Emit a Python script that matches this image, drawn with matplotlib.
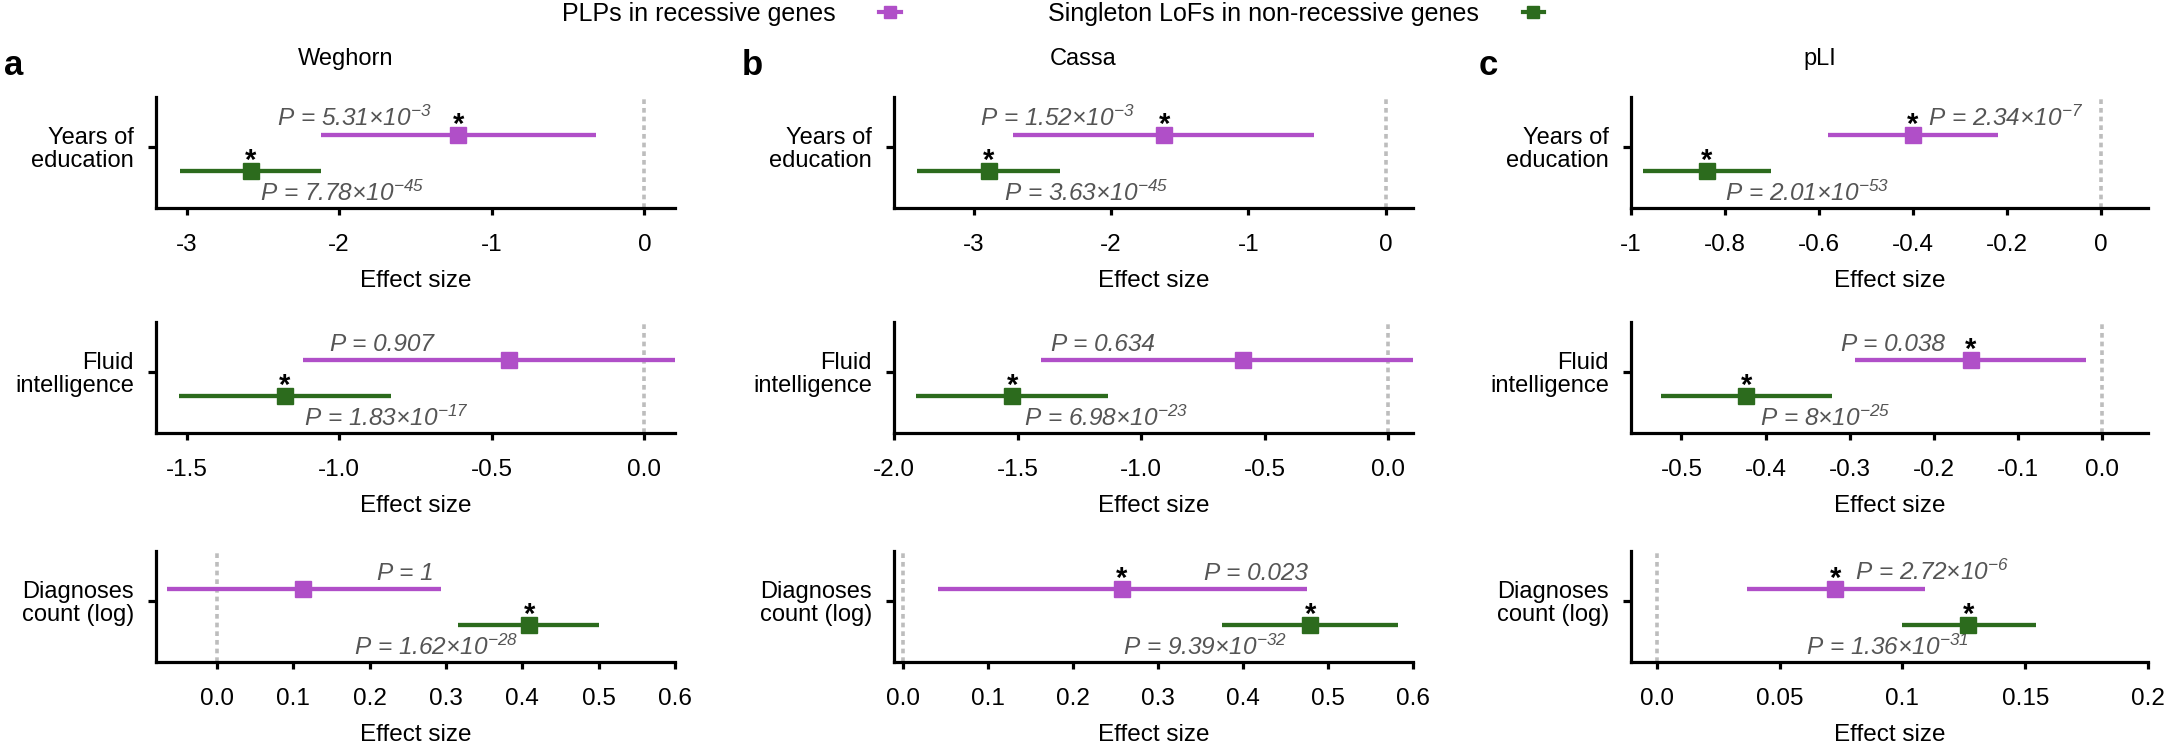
import numpy as np
import matplotlib
matplotlib.use('Agg')
import matplotlib.pyplot as plt
from matplotlib.lines import Line2D
from matplotlib import rcParams

rcParams['font.family'] = ['Liberation Sans', 'DejaVu Sans']
rcParams['mathtext.fontset'] = 'custom'
rcParams['mathtext.rm'] = 'Liberation Sans:italic'
rcParams['mathtext.it'] = 'Liberation Sans:italic'
rcParams['mathtext.bf'] = 'Liberation Sans:bold'

# ---- data (rows: years of education, fluid intelligence, diagnoses count) ----
panels = ['Weghorn', 'Cassa', 'pLI']
letters = ['a', 'b', 'c']
traits = ['Years of\neducation', 'Fluid\nintelligence', 'Diagnoses\ncount (log)']

plp_est = [[-1.22, -0.444, 0.113], [-1.61, -0.589, 0.258], [-0.40, -0.156, 0.0726]]
plp_lo = [[-2.12, -1.118, -0.065], [-2.71, -1.407, 0.042], [-0.58, -0.293, 0.0368]]
plp_hi = [[-0.317, 0.20, 0.294], [-0.52, 0.25, 0.476], [-0.219, -0.019, 0.1093]]
plp_p = [['5.31e-3', '0.907', '1'], ['1.52e-3', '0.634', '0.023'], ['2.34e-7', '0.038', '2.72e-6']]
plp_sig = [[True, False, False], [True, False, True], [True, True, True]]

lof_est = [[-2.58, -1.179, 0.409], [-2.89, -1.522, 0.479], [-0.839, -0.423, 0.1268]]
lof_lo = [[-3.04, -1.524, 0.316], [-3.41, -1.909, 0.376], [-0.975, -0.524, 0.0998]]
lof_hi = [[-2.12, -0.83, 0.501], [-2.37, -1.136, 0.582], [-0.703, -0.321, 0.1545]]
lof_p = [['7.78e-45', '1.83e-17', '1.62e-28'], ['3.63e-45', '6.98e-23', '9.39e-32'],
         ['2.01e-53', '8e-25', '1.36e-31']]
lof_sig = [[True, True, True], [True, True, True], [True, True, True]]

xticks = [
    [[-3, -2, -1, 0], [-1.5, -1.0, -0.5, 0.0], [0.0, 0.1, 0.2, 0.3, 0.4, 0.5, 0.6]],
    [[-3, -2, -1, 0], [-2.0, -1.5, -1.0, -0.5, 0.0], [0.0, 0.1, 0.2, 0.3, 0.4, 0.5, 0.6]],
    [[-1, -0.8, -0.6, -0.4, -0.2, 0], [-0.5, -0.4, -0.3, -0.2, -0.1, 0.0],
     [0.0, 0.05, 0.1, 0.15, 0.2]],
]
xticklabels = [
    [['-3', '-2', '-1', '0'], ['-1.5', '-1.0', '-0.5', '0.0'],
     ['0.0', '0.1', '0.2', '0.3', '0.4', '0.5', '0.6']],
    [['-3', '-2', '-1', '0'], ['-2.0', '-1.5', '-1.0', '-0.5', '0.0'],
     ['0.0', '0.1', '0.2', '0.3', '0.4', '0.5', '0.6']],
    [['-1', '-0.8', '-0.6', '-0.4', '-0.2', '0'], ['-0.5', '-0.4', '-0.3', '-0.2', '-0.1', '0.0'],
     ['0.0', '0.05', '0.1', '0.15', '0.2']],
]

# ---- layout ----
xlims = [
    [(-3.2, 0.2), (-1.6, 0.1), (-0.08, 0.6)],
    [(-3.58, 0.2), (-2.0, 0.1), (-0.01, 0.6)],
    [(-1.0, 0.1), (-0.56, 0.055), (-0.0105, 0.2)],
]
# left edge of the P-value texts (data units)
plp_txt_x = [[-2.41, -1.031, 0.21], [-2.955, -1.364, 0.354], [-0.368, -0.31, 0.0805]]
lof_txt_x = [[-2.52, -1.114, 0.179], [-2.78, -1.473, 0.259], [-0.799, -0.406, 0.0606]]

PURPLE = '#B04FC8'
GREEN = '#2C6B1D'
PGREY = '#555555'

W, H = 2167, 749
fig = plt.figure(figsize=(W / 100, H / 100), dpi=100)

col_left = [156, 894, 1631]
col_width = [519, 519, 517]
row_bottom = [208, 433, 662]
row_height = 111

y_plp, y_lof, y_tick = 0.66, 0.335, 0.55


def p_label(s):
    if 'e' in s:
        mant, ex = s.split('e')
        return 'P = ' + mant + '×10$^{' + ex + '}$'
    return 'P = ' + s


for c in range(3):
    for r in range(3):
        ax = fig.add_axes([col_left[c] / W, 1 - row_bottom[r] / H,
                           col_width[c] / W, row_height / H])
        ax.axvline(0, color='#BDBDBD', lw=2.6, ls=(0, (1.3, 1.1)), zorder=0)
        for est, lo, hi, yv, col in [(plp_est, plp_lo, plp_hi, y_plp, PURPLE),
                                     (lof_est, lof_lo, lof_hi, y_lof, GREEN)]:
            e = est[c][r]
            ax.errorbar([e], [yv], xerr=[[e - lo[c][r]], [hi[c][r] - e]], fmt='s',
                        color=col, ms=12, elinewidth=3.1, capsize=0, zorder=3)
        # P-value labels
        ax.annotate(p_label(plp_p[c][r]), (plp_txt_x[c][r], y_plp), xytext=(0, 6.3),
                    textcoords='offset points', ha='left', va='baseline',
                    fontsize=17.6, style='italic', color=PGREY)
        ax.annotate(p_label(lof_p[c][r]), (lof_txt_x[c][r], y_lof), xytext=(0, -21.6),
                    textcoords='offset points', ha='left', va='baseline',
                    fontsize=17.6, style='italic', color=PGREY)
        for est, sig, yv in [(plp_est, plp_sig, y_plp), (lof_est, lof_sig, y_lof)]:
            if sig[c][r]:
                ax.annotate('*', (est[c][r], yv), xytext=(0, 1.5), textcoords='offset points',
                            ha='center', va='baseline', fontsize=21, fontweight='bold')

        ax.set_xlim(*xlims[c][r])
        ax.set_ylim(0, 1)
        ax.set_xticks(xticks[c][r])
        ax.set_xticklabels(xticklabels[c][r])
        ax.set_yticks([y_tick])
        ax.set_yticklabels([traits[r]], linespacing=1.05)
        ax.set_xlabel('Effect size', fontsize=17.5, labelpad=10)
        for s in ['top', 'right']:
            ax.spines[s].set_visible(False)
        for s in ['left', 'bottom']:
            ax.spines[s].set_linewidth(2.3)
        ax.tick_params(axis='x', length=5, width=2.3, pad=14, labelsize=17.5)
        ax.tick_params(axis='y', length=6, width=2.3, pad=10, labelsize=17)

    # panel title and letter
    fig.text((col_left[c] + col_width[c] / 2 - 70) / W, 1 - 65 / H, panels[c],
             ha='center', va='baseline', fontsize=17)
    fig.text((col_left[c] - 152) / W, 1 - 75 / H, letters[c],
             ha='left', va='baseline', fontsize=25, fontweight='bold')

handles = [Line2D([], [], color=PURPLE, marker='s', ms=8, lw=3),
           Line2D([], [], color=GREEN, marker='s', ms=8, lw=3)]
fig.legend(handles, ['PLPs in recessive genes', 'Singleton LoFs in non-recessive genes'],
           loc='center left', bbox_to_anchor=(562 / W, 1 - 14 / H), ncol=2, frameon=False,
           markerfirst=False, handlelength=0.85, handletextpad=1.75, columnspacing=5.9,
           fontsize=18, borderpad=0, borderaxespad=0)

fig.savefig('out.png', dpi=100)
